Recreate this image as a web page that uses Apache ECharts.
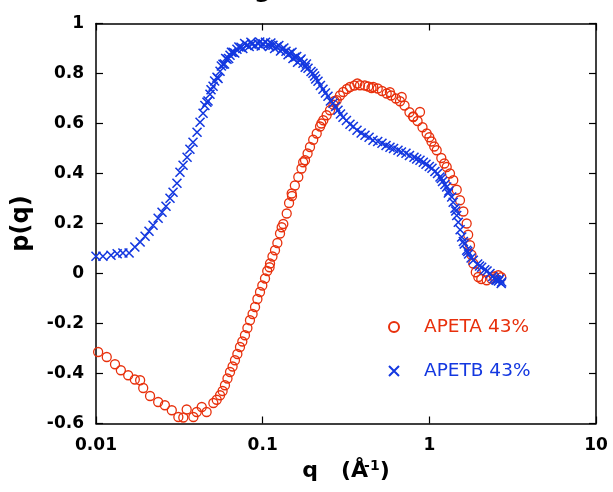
<!DOCTYPE html>
<html>
<head>
<meta charset="utf-8">
<script src="https://cdn.jsdelivr.net/npm/echarts@6/dist/echarts.min.js"></script>
<style>
html,body{margin:0;padding:0;background:#fff;}
#chart{width:613px;height:492px;}
</style>
</head>
<body>
<div id="chart"></div>
<script>
// APETA 43% (red circles)
const qA = [0.0103,0.0116,0.0130,0.0141,0.0156,0.0171,0.0184,0.0192,0.0211,0.0236,0.0259,0.0285,0.0312,0.0334,0.0350,0.0384,0.0402,0.0431,0.0461,0.0506,0.0530,0.0555,0.0575,0.0594,0.0615,0.0637,0.0660,0.0682,0.0705,0.0731,0.0755,0.0783,0.0810,0.0839,0.0870,0.0900,0.0930,0.0964,0.0995,0.1033,0.1065,0.1100,0.1107,0.1145,0.1186,0.1225,0.1271,0.1300,0.1330,0.1394,0.1440,0.1493,0.1500,0.1560,0.1636,0.1710,0.1750,0.1795,0.1860,0.1923,0.2010,0.2110,0.2210,0.2250,0.2311,0.2420,0.2535,0.2660,0.2700,0.2781,0.2910,0.3046,0.3200,0.3341,0.3550,0.3700,0.3837,0.4100,0.4300,0.4500,0.4610,0.4900,0.5200,0.5548,0.5800,0.5900,0.6300,0.6667,0.6826,0.7100,0.7600,0.8000,0.8011,0.8500,0.8789,0.9100,0.9641,1.000,1.030,1.070,1.107,1.180,1.230,1.271,1.330,1.392,1.460,1.527,1.600,1.675,1.710,1.754,1.790,1.835,1.900,1.967,2.050,2.208,2.350,2.450,2.593,2.700];
const pA = [-0.314,-0.334,-0.363,-0.387,-0.407,-0.424,-0.427,-0.458,-0.490,-0.514,-0.527,-0.547,-0.574,-0.576,-0.544,-0.574,-0.554,-0.534,-0.554,-0.518,-0.505,-0.487,-0.470,-0.447,-0.420,-0.394,-0.372,-0.347,-0.322,-0.294,-0.272,-0.247,-0.218,-0.187,-0.162,-0.134,-0.102,-0.074,-0.048,-0.020,0.010,0.025,0.040,0.068,0.093,0.122,0.160,0.185,0.198,0.240,0.282,0.320,0.310,0.352,0.386,0.420,0.445,0.453,0.480,0.506,0.535,0.560,0.588,0.600,0.613,0.633,0.653,0.675,0.690,0.693,0.712,0.726,0.738,0.746,0.752,0.760,0.753,0.752,0.748,0.742,0.746,0.740,0.730,0.720,0.725,0.712,0.700,0.689,0.706,0.672,0.645,0.628,0.626,0.610,0.646,0.585,0.560,0.545,0.528,0.508,0.493,0.462,0.440,0.426,0.400,0.373,0.335,0.293,0.248,0.200,0.155,0.113,0.075,0.040,0.005,-0.014,-0.022,-0.027,-0.020,-0.012,-0.007,-0.015];
// APETB 43% (blue crosses)
const qB = [0.0100,0.0110,0.0123,0.0134,0.0145,0.0158,0.0171,0.0184,0.0197,0.0208,0.0220,0.0236,0.0249,0.0263,0.0278,0.0290,0.0306,0.0319,0.0333,0.0352,0.0366,0.0382,0.0404,0.0421,0.0439,0.0450,0.0463,0.0470,0.0483,0.0490,0.0504,0.0515,0.0532,0.0540,0.0555,0.0565,0.0578,0.0590,0.0600,0.0611,0.0625,0.0637,0.0650,0.0664,0.0680,0.0701,0.0720,0.0741,0.0760,0.0780,0.0805,0.0830,0.0850,0.0863,0.0900,0.0938,0.0960,0.0980,0.1005,0.1040,0.1076,0.1100,0.1120,0.1153,0.1180,0.1219,0.1250,0.1280,0.1306,0.1340,0.1380,0.1420,0.1459,0.1500,0.1520,0.1563,0.1600,0.1620,0.1675,0.1700,0.1746,0.1800,0.1830,0.1871,0.1950,0.2004,0.2050,0.2080,0.2148,0.2220,0.2301,0.2380,0.2466,0.2550,0.2642,0.2740,0.2831,0.2930,0.3034,0.3180,0.3341,0.3500,0.3681,0.3900,0.4111,0.4350,0.4591,0.4900,0.5198,0.5500,0.5806,0.6100,0.6484,0.6800,0.7242,0.7600,0.8089,0.8400,0.8789,0.9200,0.9550,1.000,1.037,1.080,1.120,1.159,1.180,1.200,1.240,1.271,1.300,1.310,1.362,1.390,1.425,1.440,1.460,1.492,1.530,1.564,1.600,1.620,1.675,1.700,1.720,1.780,1.835,1.950,2.000,2.061,2.150,2.220,2.312,2.400,2.450,2.500,2.536,2.600,2.650,2.700,2.718];
const pB = [0.069,0.069,0.073,0.079,0.082,0.082,0.106,0.126,0.149,0.169,0.193,0.221,0.245,0.269,0.301,0.325,0.361,0.405,0.433,0.465,0.497,0.525,0.565,0.605,0.641,0.672,0.685,0.690,0.717,0.735,0.749,0.770,0.785,0.780,0.809,0.830,0.837,0.838,0.860,0.857,0.860,0.873,0.885,0.885,0.882,0.897,0.906,0.905,0.900,0.920,0.913,0.908,0.925,0.917,0.912,0.919,0.926,0.910,0.919,0.925,0.917,0.908,0.922,0.913,0.900,0.907,0.912,0.890,0.897,0.902,0.889,0.875,0.881,0.885,0.860,0.865,0.868,0.845,0.853,0.858,0.841,0.825,0.838,0.821,0.808,0.801,0.790,0.778,0.769,0.752,0.737,0.722,0.709,0.690,0.681,0.668,0.653,0.638,0.625,0.612,0.597,0.588,0.573,0.562,0.553,0.545,0.533,0.528,0.521,0.512,0.505,0.500,0.493,0.486,0.481,0.472,0.465,0.458,0.453,0.445,0.437,0.428,0.421,0.408,0.400,0.386,0.380,0.368,0.356,0.346,0.322,0.330,0.306,0.285,0.261,0.250,0.232,0.205,0.175,0.146,0.128,0.118,0.093,0.088,0.078,0.062,0.053,0.038,0.030,0.025,0.015,0.010,0.000,-0.012,-0.020,-0.025,-0.027,-0.030,-0.022,-0.040,-0.034];
const xTicks = [0.01, 0.1, 1, 10];
const nameA = 'APETA 43%';
const nameB = 'APETB 43%';

const RED = '#e8300c';
const BLUE = '#1438e0';
const FONT = 'DejaVu Sans';

const dataA = qA.map((q, i) => [q, pA[i]]);
const dataB = qB.map((q, i) => [q, pB[i]]);

const chart = echarts.init(document.getElementById('chart'), null, {renderer: 'canvas'});
const axisLine = {show: true, onZero: false, lineStyle: {color: '#000', width: 1.5}};
const tick = {show: true, inside: true, length: 7, lineStyle: {color: '#000', width: 1.2}};
chart.setOption({
  animation: false,
  backgroundColor: '#fff',
  grid: {left: 96, right: 17, top: 23.5, bottom: 68.5},
  graphic: [{
    type: 'text', left: 254, top: -21,
    style: {text: 'g', font: 'bold 24px "DejaVu Sans"', fill: '#000'}
  }],
  xAxis: [{
    type: 'log', logBase: 10, min: 0.01, max: 10,
    name: '{q|q}{s|   (Å}{sup|-1}{s|)}',
    nameLocation: 'middle', nameGap: 34,
    nameTextStyle: {
      rich: {
        q: {fontFamily: FONT, fontWeight: 'bold', fontSize: 22, color: '#000'},
        s: {fontFamily: FONT, fontWeight: 'bold', fontSize: 22, color: '#000'},
        sup: {fontFamily: FONT, fontWeight: 'bold', fontSize: 14, color: '#000', verticalAlign: 'top', padding: [0, 0, 10, -4]}
      }
    },
    axisLine: axisLine,
    axisTick: tick,
    minorTick: {show: false},
    splitLine: {show: false},
    axisLabel: {
      fontFamily: FONT, fontWeight: 'bold', fontSize: 17, color: '#000', margin: 14,
      formatter: v => { const t = xTicks.find(x => Math.abs(x - v) / x < 1e-6); return t === undefined ? '' : String(t); }
    }
  }, {
    type: 'log', logBase: 10, min: 0.01, max: 10, position: 'top',
    axisLine: axisLine,
    axisTick: tick,
    axisLabel: {show: false}, splitLine: {show: false}
  }],
  yAxis: [{
    type: 'value', min: -0.6, max: 1, interval: 0.2,
    name: 'p(q)', nameLocation: 'middle', nameGap: 62, nameRotate: 90,
    nameTextStyle: {fontFamily: FONT, fontWeight: 'bold', fontSize: 24, color: '#000'},
    axisLine: axisLine,
    axisTick: tick,
    splitLine: {show: false},
    axisLabel: {
      fontFamily: FONT, fontWeight: 'bold', fontSize: 17, color: '#000', margin: 12,
      formatter: v => String(Math.round(v * 10) / 10)
    }
  }, {
    type: 'value', min: -0.6, max: 1, interval: 0.2, position: 'right',
    axisLine: axisLine,
    axisTick: tick,
    axisLabel: {show: false}, splitLine: {show: false}
  }],
  legend: {
    orient: 'vertical', left: 383, top: 312,
    itemWidth: 10, itemHeight: 10, itemGap: 24,
    data: [
      {name: nameA, textStyle: {color: RED}},
      {name: nameB, textStyle: {color: BLUE}}
    ],
    textStyle: {fontFamily: FONT, fontSize: 18.5, lineHeight: 20, padding: [0, 0, 0, 20]}
  },
  series: [{
    name: nameA, type: 'scatter', data: dataA,
    symbol: 'circle', symbolSize: 9,
    itemStyle: {color: 'rgba(255,255,255,0)', borderColor: RED, borderWidth: 1.3, opacity: 1}
  }, {
    name: nameB, type: 'scatter', data: dataB,
    symbol: 'path://M0,0L10,10M0,10L10,0', symbolSize: 9,
    itemStyle: {color: 'rgba(255,255,255,0)', borderColor: BLUE, borderWidth: 1.6, opacity: 1}
  }]
});
</script>
</body>
</html>
